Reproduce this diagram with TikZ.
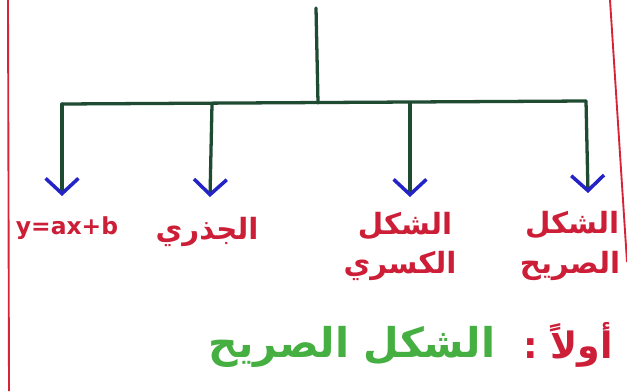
\documentclass[tikz,border=0pt]{standalone}
\usepackage{fontspec}
\usetikzlibrary{arrows.meta}
\TeXXeTstate=1
\newfontfamily\arabicfont[Script=Arabic]{DejaVu Sans}
\setmainfont{DejaVu Sans}
\definecolor{inkred}{RGB}{205,30,55}
\definecolor{inkgreen}{RGB}{30,75,50}
\definecolor{inkblue}{RGB}{35,35,200}
\definecolor{lightgreen}{RGB}{70,175,65}
\definecolor{marginred}{RGB}{215,35,55}
\begin{document}
\begin{tikzpicture}[x=0.03cm,y=-0.03cm,
  branch/.style={draw=inkgreen,line width=2.8pt,line cap=round,line join=round},
  drop/.style={branch,-{Straight Barb[color=inkblue,length=13pt,width=28pt,line width=3pt]}},
  label/.style={text=inkred,font=\arabicfont\bfseries\fontsize{25}{30}\selectfont,inner sep=0pt},
  latin/.style={text=inkred,font=\bfseries\fontsize{20}{24}\selectfont,inner sep=0pt},
  heading/.style={label,font=\arabicfont\bfseries\fontsize{31}{37}\selectfont},
  margin/.style={draw=marginred,line width=1.6pt}]
\useasboundingbox (0,0) rectangle (627,391);
% page margin rules
\draw[margin] (8,0) -- (9,391);
\draw[margin] (610,0) -- (627,262);
% trunk and crossbar
\coordinate (top) at (316,8);
\coordinate (hub) at (318,103);
\coordinate (b1) at (62,104);
\coordinate (b2) at (212,104);
\coordinate (b3) at (410,103);
\coordinate (b4) at (586,101);
\draw[branch] (top) -- (hub);
\draw[branch] (b1) -- (b4);
% arrow ends
\coordinate (e1) at (62,196);
\coordinate (e2) at (210,197);
\coordinate (e3) at (410,197);
\coordinate (e4) at (588,193);
\draw[drop] (b1) -- (e1);
\draw[drop] (b2) -- (e2);
\draw[drop] (b3) -- (e3);
\draw[drop] (b4) -- (e4);
% leaf labels
\node[latin] (l1) at (67,228) {y=ax+b};
\node[label] (l2) at (207,232) {\beginR الجذري\endR};
\node[label] (l3a) at (405,226) {\beginR الشكل\endR};
\node[label] (l3b) at (400,266) {\beginR الكسري\endR};
\node[label] (l4a) at (572,225) {\beginR الشكل\endR};
\node[label] (l4b) at (570,266) {\beginR الصريح\endR};
% heading of the first case
\node[heading] (h1) at (568,345) {\beginR أولاً :\endR};
\node[heading,text=lightgreen,font=\arabicfont\bfseries\fontsize{35}{42}\selectfont] (h2) at (352,347) {\beginR الشكل الصريح\endR};
\end{tikzpicture}
\end{document}
